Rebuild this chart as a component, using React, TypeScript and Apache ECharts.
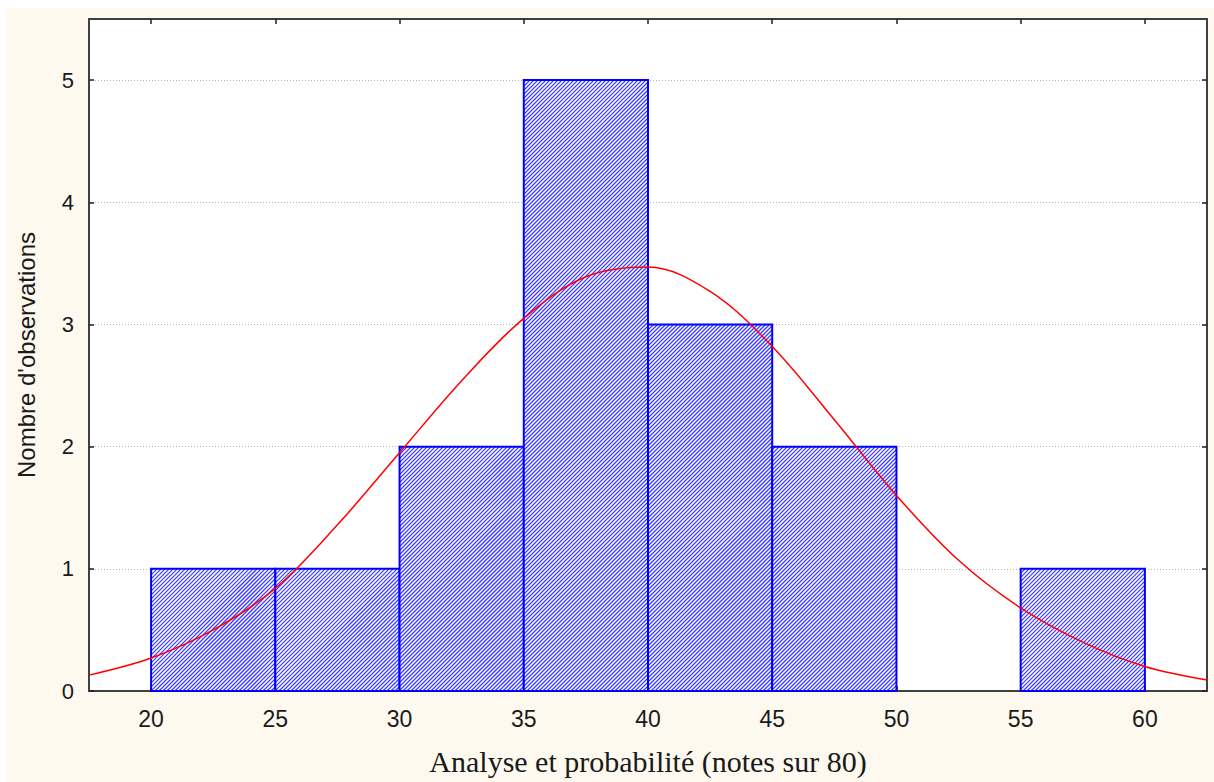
import React, { useEffect, useRef } from "react";
import * as echarts from "echarts";

const BIN_STARTS = [20, 25, 30, 35, 40, 45, 50, 55];
const BIN_ENDS = [25, 30, 35, 40, 45, 50, 55, 60];
const COUNTS = [1, 1, 2, 5, 3, 2, 0, 1];

const CURVE_X = [17.5, 20, 22.5, 25, 27.5, 30, 32.5, 35, 37.5, 40, 42.5, 45, 47.5, 50, 52.5, 55, 57.5, 60, 62.5];
const CURVE_Y = [0.13, 0.27, 0.5, 0.84, 1.36, 1.95, 2.54, 3.05, 3.39, 3.47, 3.27, 2.82, 2.22, 1.6, 1.07, 0.68, 0.4, 0.2, 0.09];

const X_TICKS = [20, 25, 30, 35, 40, 45, 50, 55, 60];
const Y_TICKS = [0, 1, 2, 3, 4, 5];

const X_NAME = "Analyse et probabilité (notes sur 80)";
const Y_NAME = "Nombre d'observations";

const HATCH_STEP = 4;

export default function App() {
  const ref = useRef<HTMLDivElement>(null);
  useEffect(() => {
    if (!ref.current) return;
    const chart = echarts.init(ref.current, null, { renderer: "svg" });
    const binData = BIN_STARTS.map((s, i) => [s, BIN_ENDS[i], COUNTS[i]]);
    const curveData = CURVE_X.map((x, i) => [x, CURVE_Y[i]]);
    const axisLineStyle = { color: "#404040", width: 2 };
    const tickStyle = { color: "#202020", width: 1.5 };
    const labelFont = { color: "#1a1a1a", fontFamily: "Liberation Sans, Arial, sans-serif" };
    chart.setOption({
      animation: false,
      backgroundColor: "transparent",
      grid: {
        left: 82,
        top: 11,
        right: 7,
        bottom: 91,
        show: true,
        backgroundColor: "#ffffff",
        borderWidth: 0,
      },
      xAxis: [
        {
          type: "value",
          min: 17.5,
          max: 62.5,
          position: "bottom",
          axisLine: { show: true, onZero: false, lineStyle: axisLineStyle },
          axisTick: { show: true, inside: true, length: 5, customValues: X_TICKS, lineStyle: tickStyle },
          axisLabel: { customValues: X_TICKS, fontSize: 23, margin: 16, ...labelFont },
          splitLine: { show: false },
          name: X_NAME,
          nameLocation: "middle",
          nameGap: 55,
          nameTextStyle: { fontSize: 30, fontFamily: "Liberation Serif, Times New Roman, serif", color: "#1a1a1a" },
        },
        {
          type: "value",
          min: 17.5,
          max: 62.5,
          position: "top",
          axisLine: { show: true, onZero: false, lineStyle: axisLineStyle },
          axisTick: { show: true, inside: true, length: 5, customValues: X_TICKS, lineStyle: tickStyle },
          axisLabel: { show: false },
          splitLine: { show: false },
        },
      ],
      yAxis: [
        {
          type: "value",
          min: 0,
          max: 5.5,
          position: "left",
          axisLine: { show: true, onZero: false, lineStyle: axisLineStyle },
          axisTick: { show: true, inside: true, length: 5, customValues: Y_TICKS, lineStyle: tickStyle },
          axisLabel: { customValues: Y_TICKS, fontSize: 22, margin: 15, ...labelFont },
          splitLine: { show: true, lineStyle: { color: "#b4b4b4", type: [1, 2], width: 1 } },
          name: Y_NAME,
          nameLocation: "middle",
          nameGap: 51,
          nameTextStyle: { fontSize: 24, fontFamily: "Liberation Sans, Arial, sans-serif", color: "#1a1a1a" },
        },
        {
          type: "value",
          min: 0,
          max: 5.5,
          position: "right",
          axisLine: { show: true, onZero: false, lineStyle: axisLineStyle },
          axisTick: { show: true, inside: true, length: 5, customValues: Y_TICKS, lineStyle: tickStyle },
          axisLabel: { show: false },
          splitLine: { show: false },
        },
      ],
      series: [
        {
          type: "custom",
          xAxisIndex: 0,
          yAxisIndex: 0,
          data: binData,
          encode: { x: [0, 1], y: 2 },
          renderItem: (params: any, api: any) => {
            const s = api.value(0);
            const e = api.value(1);
            const c = api.value(2);
            if (!c) return null;
            const p0 = api.coord([s, c]);
            const p1 = api.coord([e, 0]);
            const x0 = p0[0], y0 = p0[1], x1 = p1[0], y1 = p1[1];
            const children: any[] = [
              {
                type: "rect",
                shape: { x: x0, y: y0, width: x1 - x0, height: y1 - y0 },
                style: { fill: "#ffffff", stroke: "none" },
              },
            ];
            const kStart = Math.ceil((x0 + y0) / HATCH_STEP) * HATCH_STEP;
            for (let k = kStart; k <= x1 + y1; k += HATCH_STEP) {
              const xa = Math.max(x0, k - y1);
              const xb = Math.min(x1, k - y0);
              if (xb <= xa) continue;
              children.push({
                type: "line",
                shape: { x1: xa, y1: k - xa, x2: xb, y2: k - xb },
                style: { stroke: "#3a3aff", lineWidth: 1.25 },
                silent: true,
              });
            }
            children.push({
              type: "rect",
              shape: { x: x0, y: y0, width: x1 - x0, height: y1 - y0 },
              style: { fill: "none", stroke: "#0000ff", lineWidth: 2 },
            });
            return { type: "group", children };
          },
          z: 2,
        },
        {
          type: "line",
          xAxisIndex: 0,
          yAxisIndex: 0,
          data: curveData,
          smooth: 0.35,
          showSymbol: false,
          symbol: "none",
          lineStyle: { color: "#ff0000", width: 1.5 },
          clip: true,
          z: 3,
        },
      ],
    });
    return () => chart.dispose();
  }, []);
  return (
    <div style={{ position: "absolute", left: 0, top: 0, width: 1214, height: 782, background: "#ffffff" }}>
      <div
        ref={ref}
        style={{ position: "absolute", left: 6, top: 8, width: 1208, height: 774, background: "#fdf9ef" }}
      />
    </div>
  );
}
